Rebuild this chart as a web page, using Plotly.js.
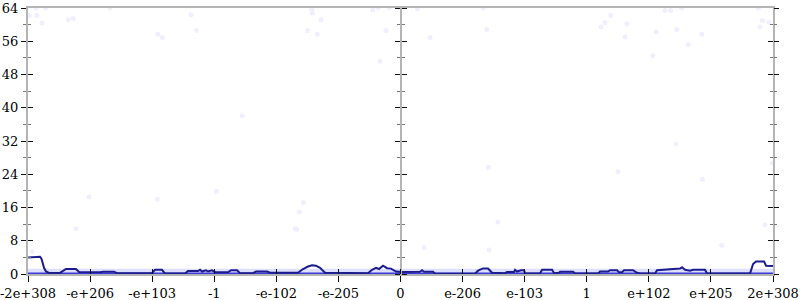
<!DOCTYPE html>
<html>
<head>
<meta charset="utf-8">
<script src="https://cdn.plot.ly/plotly-3.0.1.min.js"></script>
<style>html,body{margin:0;padding:0;background:#fff;}#chart{width:800px;height:300px;}</style>
</head>
<body>
<div id="chart"></div>
<script>
// x positions are in tick-index units (0..12), each tick one "ordinal" step
const tickPos = [0,1,2,3,4,5,6,7,8,9,10,11,12];
const tickLabels = ["-2e+308","-e+206","-e+103","-1","-e-102","-e-205","0","e-206","e-103","1","e+102","e+205","2e+308"];
const yTicks = [0,8,16,24,32,40,48,56,64];

// dark running line
const lineX = [0,0.161,0.193,0.217,0.258,0.29,0.338,0.515,0.564,0.612,0.773,0.822,1.16,1.208,1.385,1.434,1.997,2.046,2.159,2.207,2.529,2.577,2.738,2.771,2.803,2.867,2.9,2.964,3.012,3.061,3.222,3.27,3.367,3.415,3.624,3.673,3.85,3.898,4.349,4.43,4.51,4.575,4.639,4.704,4.784,5.477,5.541,5.606,5.654,5.719,5.783,5.847,5.928,5.992,
 6.025,6.314,6.347,6.379,6.524,6.556,7.2,7.249,7.33,7.41,7.474,7.684,7.716,7.829,7.845,7.877,7.941,7.99,8.006,8.247,8.28,8.441,8.473,8.554,8.57,8.779,8.811,9.182,9.214,9.343,9.375,9.488,9.52,9.568,9.6,9.745,9.81,9.858,10.1,10.132,10.229,10.47,10.503,10.535,10.583,10.664,10.712,10.905,10.937,11.63,11.679,11.727,11.856,11.888,12];
const lineY = [4.0,4.0,4.15,3.7,1.5,0.6,0.25,0.25,0.8,1.2,1.2,0.5,0.4,0.55,0.55,0.2,0.2,1.0,1.0,0.1,0.1,0.7,0.7,1.0,0.6,0.9,0.6,0.9,0.5,0.4,0.4,0.9,0.9,0.2,0.2,0.6,0.6,0.3,0.3,1.2,1.8,2.1,2.0,1.5,0.3,0.2,1.0,1.5,1.2,2.0,1.4,1.3,0.6,0.5,
 0.5,0.55,0.9,0.55,0.55,0.05,0.05,0.8,1.35,1.3,0.3,0.2,0.5,0.5,1.0,0.6,0.9,0.9,0.1,0.1,1.0,1.0,0.2,0.3,0.55,0.55,0.1,0.1,0.6,0.6,0.9,0.9,0.4,0.4,0.9,0.9,0.3,0.1,0.1,0.9,1.0,1.1,1.3,1.6,1.0,0.8,1.0,1.0,0.1,0.1,2.4,3.0,3.0,2.0,1.9];

// faint scattered points
const ptsX = [0.021,0.129,0.14,0.226,0.285,0.649,0.73,1.321,2.089,2.163,2.626,2.717,4.58,4.57,4.72,4.499,4.66,5.552,5.643,5.82,5.767,5.67,6.271,6.475,7.334,7.389,9.386,9.29,9.23,9.644,9.617,10.26,10.35,10.53,10.116,10.45,10.852,10.636,10.063,11.764,11.83,11.936,11.79,3.452,0.983,2.083,3.033,4.435,4.37,0.773,4.306,10.438,7.415,9.504,10.862,7.571,11.872,11.99,4.33,6.379,7.43,11.174,0.064];
const ptsY = [62.2,64,62.2,60.4,64,61.2,61.4,64,57.7,56.9,62.4,58.6,62.8,63.6,61.2,58.6,57.7,63.6,64,64,58.6,51.2,63.8,56.9,64,58.8,62.2,60.5,59.4,60.2,57.0,63.4,63.4,64,58.2,58.8,57.7,55.2,52.5,64,61.0,60.6,59.4,38.1,18.5,18.0,19.9,17.2,14.9,10.9,10.9,31.3,25.7,24.6,22.8,12.5,11.8,26.7,10.7,6.3,5.8,6.9,5.4];

// dense light band near zero and the baseline
const bandX = [0,12];
const bandTop = [1.25,1.25];
const baseY = [0,0];

const fontT = {family:"'DejaVu Serif', 'Liberation Serif', serif", size:13, color:"#000"};
const grey = "#b4b4b4";

const traces = [
  {x:ptsX, y:ptsY, mode:"markers", type:"scatter", marker:{size:5, color:"#efeffd"}, cliponaxis:true, hoverinfo:"skip"},
  {x:bandX, y:bandTop, mode:"lines", type:"scatter", fill:"tozeroy", fillcolor:"rgba(150,150,255,0.3)", line:{width:0}, hoverinfo:"skip"},
  {x:bandX, y:baseY, mode:"lines", type:"scatter", line:{color:"#3a3ad8", width:3}, hoverinfo:"skip"},
  {x:lineX, y:lineY, mode:"lines", type:"scatter", line:{color:"#1c1c8e", width:2}, hoverinfo:"skip"},
  {x:[], y:[], xaxis:"x2", yaxis:"y2", type:"scatter"},
  {x:[], y:[], xaxis:"x", yaxis:"y3", type:"scatter"},
  {x:[], y:[], xaxis:"x", yaxis:"y4", type:"scatter"},
  {x:[], y:[], xaxis:"x", yaxis:"y5", type:"scatter"},
  {x:[], y:[], xaxis:"x", yaxis:"y6", type:"scatter"}
];

const yBase = {range:[0,64], tickvals:yTicks, showgrid:false, zeroline:false, fixedrange:true,
  tickcolor:"#111", tickwidth:1, minor:{tickvals:[4,12,20,28,36,44,52,60], tickcolor:"#777", ticklen:3}};

const layout = {
  width:800, height:300,
  margin:{l:28, r:27, t:8, b:26},
  paper_bgcolor:"#fff", plot_bgcolor:"#fff",
  showlegend:false,
  font:{family:"'DejaVu Serif', serif"},
  xaxis:{range:[0,12], tickvals:tickPos, ticktext:tickLabels, ticks:"outside", ticklen:6, tickcolor:"#111",
    showline:true, linecolor:grey, linewidth:2, mirror:true, showgrid:false, zeroline:false, tickfont:fontT, fixedrange:true,
    ticklabeloverflow:"allow"},
  xaxis2:{overlaying:"x", anchor:"y", side:"bottom", range:[0,12], tickvals:tickPos, ticks:"inside", ticklen:5, tickcolor:"#111",
    showticklabels:false, showline:false, showgrid:false, zeroline:false},
  yaxis:Object.assign({}, yBase, {side:"left", ticks:"outside", ticklen:5, showline:true, linecolor:grey, linewidth:2, mirror:true,
    tickfont:fontT, ticklabeloverflow:"allow", minor:Object.assign({}, yBase.minor, {ticks:"outside"})}),
  yaxis2:Object.assign({}, yBase, {overlaying:"y", anchor:"x2", side:"left", ticks:"inside", ticklen:5, showticklabels:false, showline:false,
    minor:Object.assign({}, yBase.minor, {ticks:"inside"})}),
  yaxis3:Object.assign({}, yBase, {overlaying:"y", anchor:"x", side:"right", ticks:"outside", ticklen:5, showticklabels:false, showline:false,
    minor:Object.assign({}, yBase.minor, {ticks:"outside"})}),
  yaxis4:Object.assign({}, yBase, {overlaying:"y", anchor:"x", side:"right", ticks:"inside", ticklen:5, showticklabels:false, showline:false,
    minor:Object.assign({}, yBase.minor, {ticks:"inside"})}),
  yaxis5:Object.assign({}, yBase, {overlaying:"y", anchor:"free", position:0.5, side:"left", ticks:"outside", ticklen:5, showticklabels:false,
    showline:true, linecolor:grey, linewidth:2, minor:Object.assign({}, yBase.minor, {ticks:"outside"})}),
  yaxis6:Object.assign({}, yBase, {overlaying:"y", anchor:"free", position:0.5, side:"right", ticks:"outside", ticklen:5, showticklabels:false,
    showline:false, minor:Object.assign({}, yBase.minor, {ticks:"outside"})})
};

Plotly.newPlot("chart", traces, layout, {staticPlot:true, displayModeBar:false});
</script>
</body>
</html>
